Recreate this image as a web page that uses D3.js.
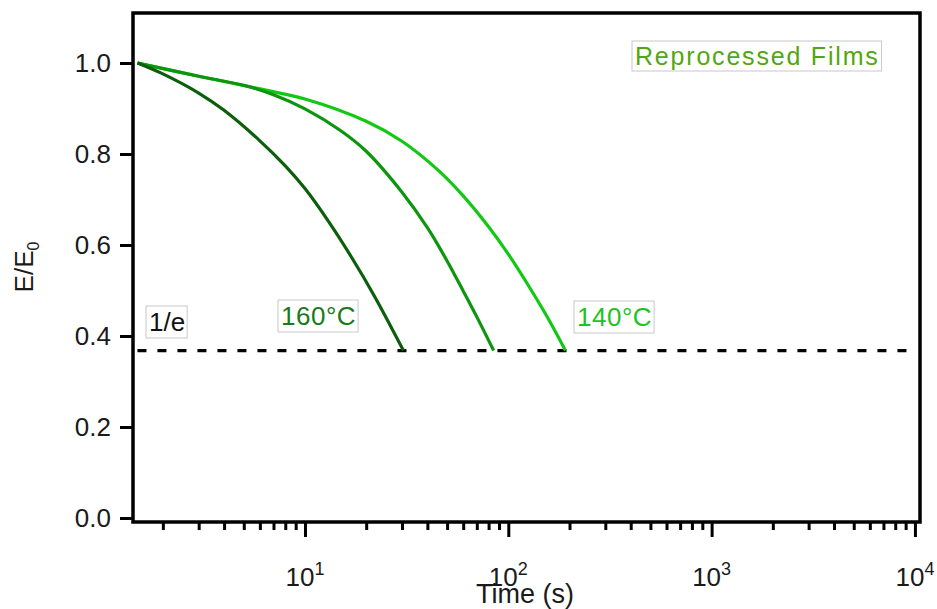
<!DOCTYPE html>
<html>
<head>
<meta charset="utf-8">
<script src="https://cdn.jsdelivr.net/npm/d3@7/dist/d3.min.js"></script>
<style>
  body { margin: 0; background: #fff; }
  text { font-family: "Liberation Sans", Arial, sans-serif; }
</style>
</head>
<body>
<svg id="chart" width="937" height="609"></svg>
<script>
// values (time in s, E/E0)
const time160 = [1.5, 2, 3, 4, 6, 8, 10, 13, 17, 22, 30.5];
const ratio160 = [1.0, 0.976, 0.934, 0.896, 0.829, 0.774, 0.724, 0.653, 0.572, 0.487, 0.368];

const timeMid = [1.5, 3, 5, 7, 10, 15, 20, 30, 40, 50, 60, 70, 84.7];
const ratioMid = [1.0, 0.971, 0.951, 0.930, 0.899, 0.851, 0.806, 0.716, 0.638, 0.565, 0.499, 0.442, 0.368];

const time140 = [1.5, 3, 6, 10, 20, 30, 45, 60, 80, 100, 130, 160, 191];
const ratio140 = [1.0, 0.971, 0.943, 0.921, 0.872, 0.828, 0.765, 0.708, 0.640, 0.580, 0.500, 0.432, 0.368];

const invE = 0.368;
const invETime = [1.5, 10000];

const yTicks = [0.0, 0.2, 0.4, 0.6, 0.8, 1.0];
const xMajor = [10, 100, 1000, 10000];
const xExponents = ['1', '2', '3', '4'];

const colors = { c160: '#0b5f0b', mid: '#0d960d', c140: '#13c813' };

const margin = { left: 133, top: 13, right: 920, bottom: 522 };
const svg = d3.select('#chart');

const x = d3.scaleLog().domain([1.426, 10590]).range([margin.left, margin.right]);
const y = d3.scaleLinear().domain([-0.0088, 1.1099]).range([margin.bottom, margin.top]);

// minor ticks 2..9 per decade
const xMinor = [];
[1, 10, 100, 1000].forEach(dec => {
  for (let k = 2; k <= 9; k++) {
    const v = dec * k;
    if (v >= x.domain()[0]) xMinor.push(v);
  }
});

// frame
svg.append('rect')
  .attr('x', margin.left).attr('y', margin.top)
  .attr('width', margin.right - margin.left).attr('height', margin.bottom - margin.top)
  .attr('fill', 'none').attr('stroke', '#000').attr('stroke-width', 3.5);

// y axis
const yAxis = svg.append('g').attr('transform', `translate(${margin.left},0)`)
  .call(d3.axisLeft(y).tickValues(yTicks).tickSize(13).tickPadding(9).tickFormat(d3.format('.1f')));
yAxis.select('.domain').remove();
yAxis.selectAll('line').attr('stroke-width', 3);
yAxis.selectAll('text').attr('font-size', 26).attr('fill', '#1a1a1a')
  .style('font-family', '"Liberation Sans", Arial, sans-serif');

// x axis: major + minor
const xAxisMajor = svg.append('g').attr('transform', `translate(0,${margin.bottom})`)
  .call(d3.axisBottom(x).tickValues(xMajor).tickSize(15).tickFormat(''));
xAxisMajor.select('.domain').remove();
xAxisMajor.selectAll('line').attr('stroke-width', 3);

const xAxisMinor = svg.append('g').attr('transform', `translate(0,${margin.bottom})`)
  .call(d3.axisBottom(x).tickValues(xMinor).tickSize(8).tickFormat(''));
xAxisMinor.select('.domain').remove();
xAxisMinor.selectAll('line').attr('stroke-width', 3);

// x tick labels 10^n
xMajor.forEach((v, i) => {
  const t = svg.append('text')
    .attr('x', x(v)).attr('y', 586)
    .attr('text-anchor', 'middle')
    .attr('font-size', 26).attr('fill', '#1a1a1a');
  t.append('tspan').text('10');
  t.append('tspan').text(xExponents[i]).attr('font-size', 18).attr('dy', -11);
});

// axis titles
svg.append('text')
  .attr('x', 525).attr('y', 603)
  .attr('text-anchor', 'middle')
  .attr('font-size', 27).attr('fill', '#1a1a1a')
  .text('Time (s)');

const yTitle = svg.append('text')
  .attr('transform', 'translate(33,267) rotate(-90)')
  .attr('text-anchor', 'middle')
  .attr('font-size', 26).attr('fill', '#1a1a1a');
yTitle.append('tspan').text('E/E');
yTitle.append('tspan').text('0').attr('font-size', 16).attr('dy', 6);

// 1/e dashed line
const line = d3.line().x(d => x(d[0])).y(d => y(d[1]));
svg.append('path')
  .attr('d', line(invETime.map(t => [t, invE])))
  .attr('fill', 'none').attr('stroke', '#000')
  .attr('stroke-width', 3.2).attr('stroke-dasharray', '9,11');

// curves
const curve = d3.line().x(d => x(d[0])).y(d => y(d[1])).curve(d3.curveCatmullRom.alpha(0.5));
const series = [
  { t: time140, r: ratio140, c: colors.c140 },
  { t: timeMid, r: ratioMid, c: colors.mid },
  { t: time160, r: ratio160, c: colors.c160 }
];
svg.selectAll('.curve').data(series).join('path')
  .attr('class', 'curve')
  .attr('d', s => curve(s.t.map((t, i) => [t, s.r[i]])))
  .attr('fill', 'none')
  .attr('stroke', s => s.c)
  .attr('stroke-width', 3.2);

// boxed labels
function boxLabel(txt, px, py, color, size, spacing) {
  const g = svg.append('g');
  const t = g.append('text')
    .attr('x', px).attr('y', py)
    .attr('font-size', size).attr('fill', color)
    .attr('letter-spacing', spacing)
    .text(txt);
  const b = t.node().getBBox();
  g.insert('rect', 'text')
    .attr('x', b.x - 3).attr('y', b.y - 1)
    .attr('width', b.width + 5).attr('height', b.height + 2)
    .attr('fill', '#fff').attr('stroke', '#c8c8c8').attr('stroke-width', 1);
}

boxLabel('Reprocessed Films', 635, 65, '#52a60f', 25, 1.8);
boxLabel('1/e', 149, 331, '#111', 26, 0);
boxLabel('160°C', 281, 325, '#1a7a1a', 26, 0.5);
boxLabel('140°C', 577, 326, '#1dc41d', 26, 0.5);
</script>
</body>
</html>
